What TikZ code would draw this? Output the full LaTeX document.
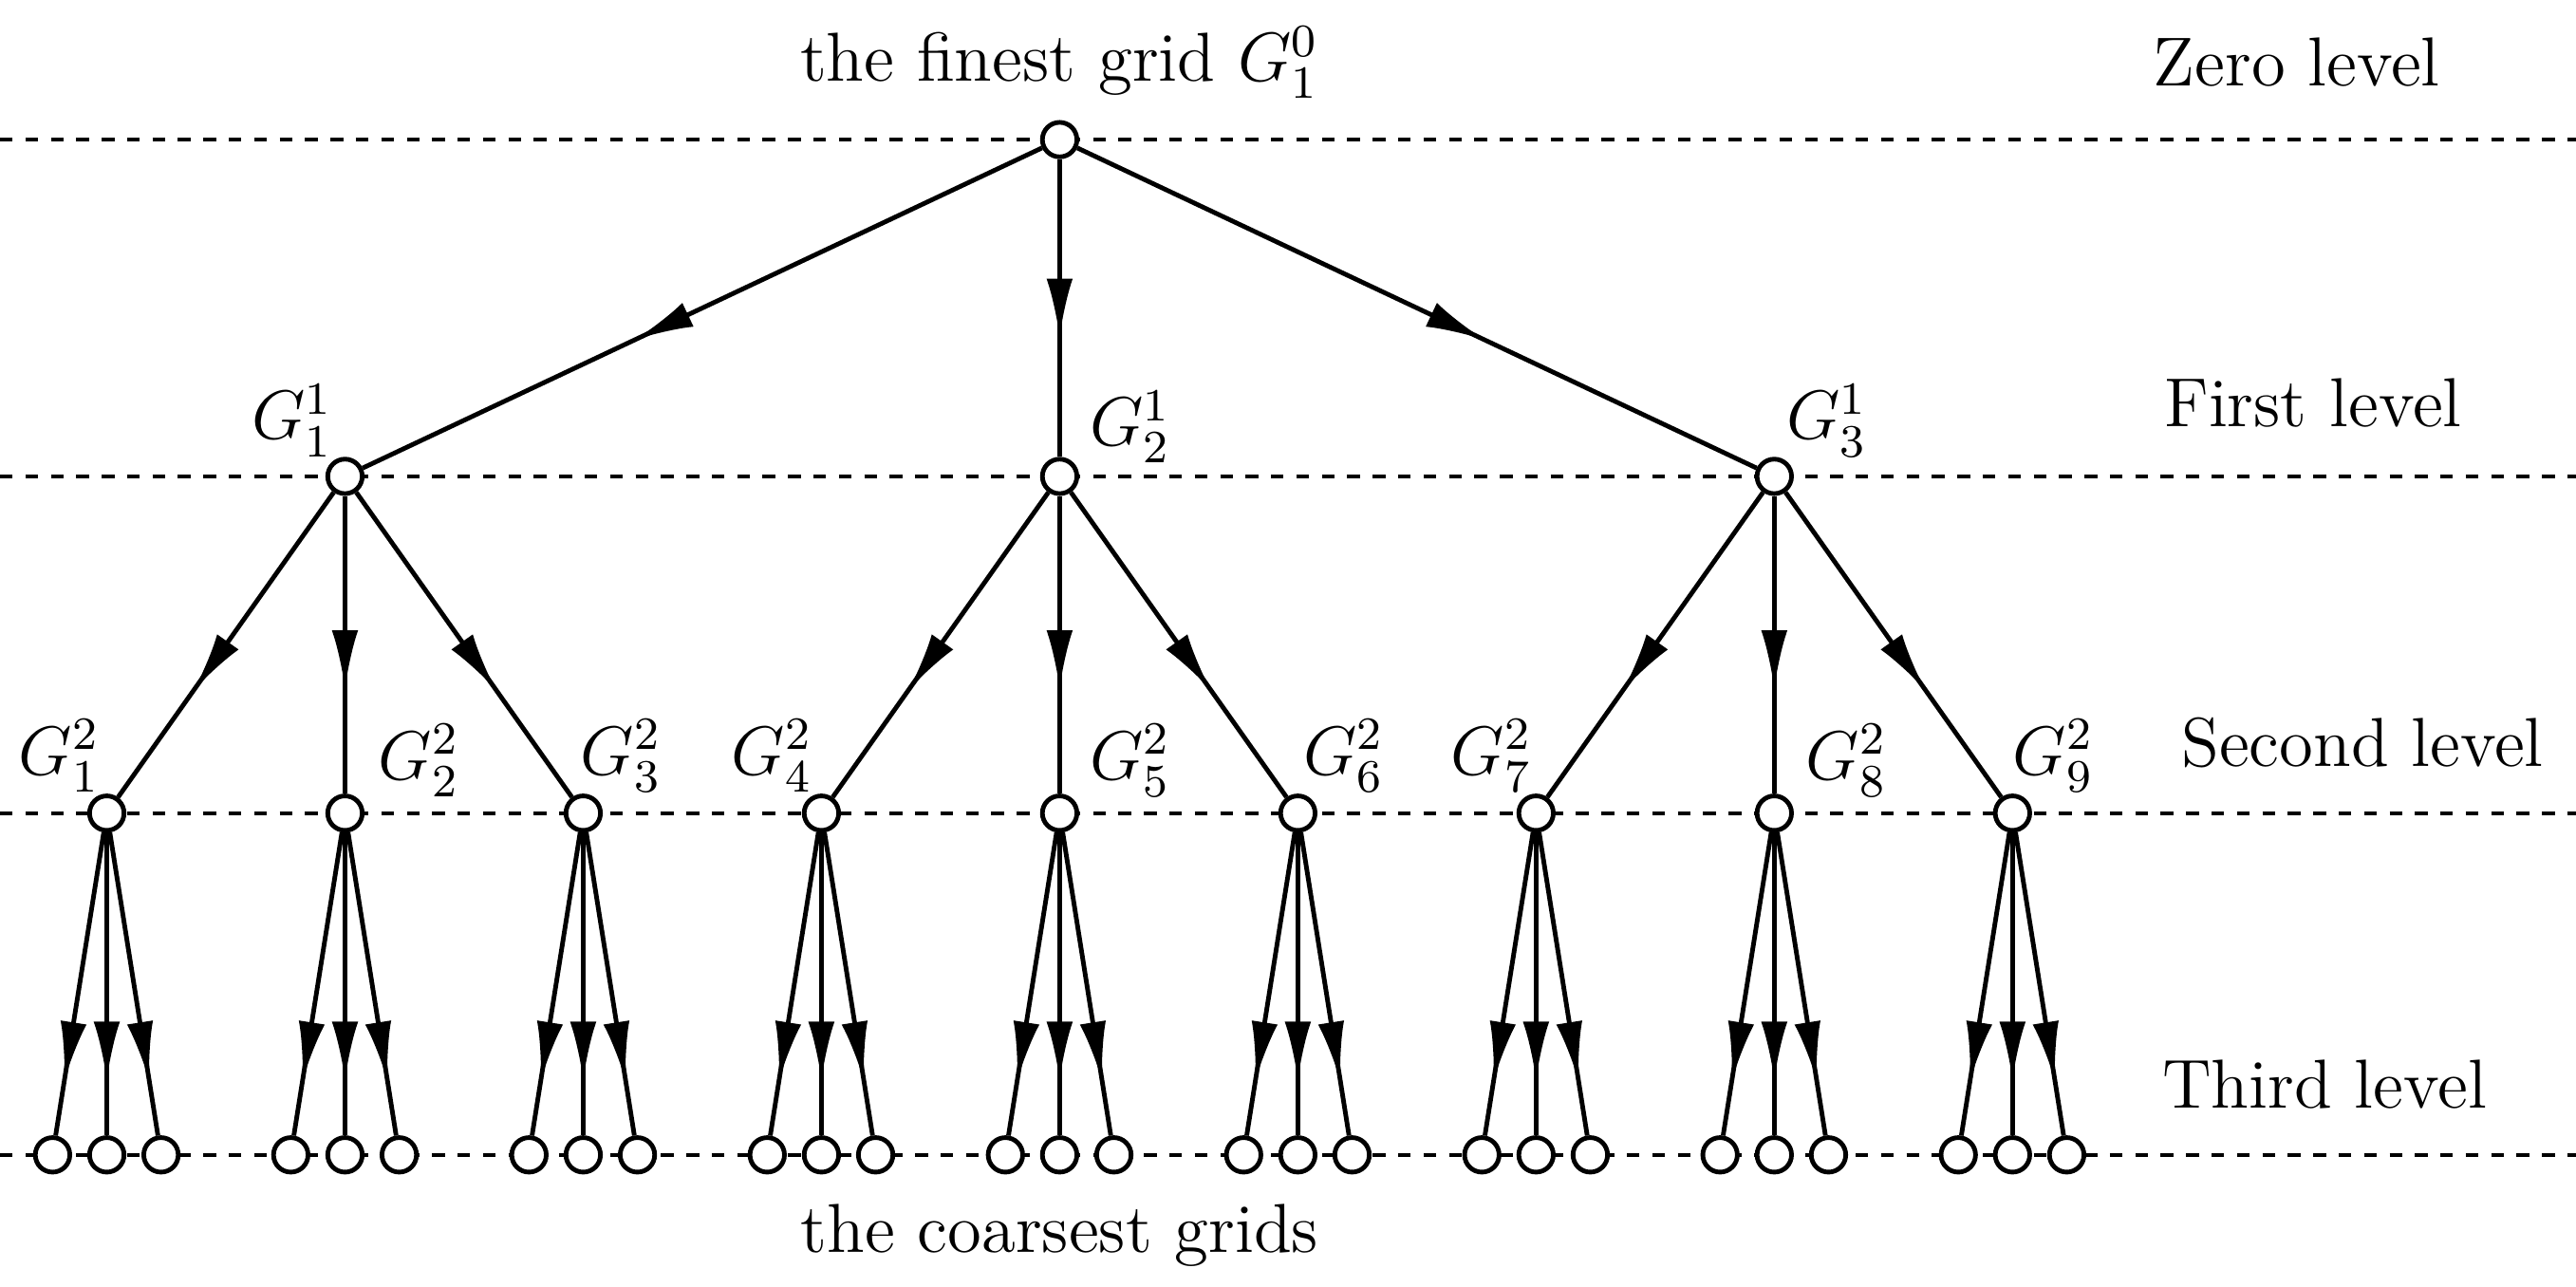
\documentclass[tikz,border=0pt]{standalone}
\usepackage{amsmath}
\usetikzlibrary{arrows.meta,decorations.markings}
\tikzset{
  grid/.style={circle, draw, fill=white, line width=0.8pt, minimum size=0.21cm, inner sep=0pt},
  edge/.style={line width=0.8pt, decoration={markings,
      mark=at position #1 with {\arrow{Latex[length=3.6mm,width=1.6mm]}}}, postaction={decorate}},
  edge/.default=0.6,
  level/.style={dash pattern=on 2.2pt off 2.2pt, line width=0.6pt},
  lbl/.style={font=\fontsize{12}{14}\selectfont}
}
\begin{document}
\begin{tikzpicture}[x=0.01cm, y=-0.01cm]
\useasboundingbox (0,0) rectangle (1568,783);
% dashed level lines
\foreach \y in {85,290,495,703}
  \draw[level] (0,\y) -- (1568,\y);
% level names
\node[lbl] (zero) at (1398,38) {Zero level};
\node[lbl] (first) at (1408,245) {First level};
\node[lbl] (second) at (1438,452) {Second level};
\node[lbl] (third) at (1415,660) {Third level};
% root
\node[grid] (r) at (645,85) {};
\node[lbl] (finest) at (645,38) {the finest grid $G_1^0$};
% first level
\foreach \i/\x in {1/210,2/645,3/1080} {
  \node[grid] (a\i) at (\x,290) {};
  \draw[edge] (r) -- (a\i);
}
\node[lbl] at (178,256) {$G_1^1$};
\node[lbl] at (688,260) {$G_2^1$};
\node[lbl] at (1112,256) {$G_3^1$};
% second level
\foreach \p/\x in {1/65,2/210,3/355,4/500,5/645,6/790,7/935,8/1080,9/1225} {
  \pgfmathtruncatemacro{\q}{int((\p-1)/3)+1}
  \node[grid] (b\p) at (\x,495) {};
  \draw[edge=0.65] (a\q) -- (b\p);
  \foreach \k/\dx in {1/-33,2/0,3/33} {
    \node[grid] (c\p\k) at (\x+\dx,703) {};
    \draw[edge=0.82] (b\p) -- (c\p\k);
  }
}
\foreach \p/\x/\y in {1/36/460,2/255/463,3/378/460,4/470/460,5/688/463,6/818/460,7/908/460,8/1124/463,9/1250/460}
  \node[lbl] at (\x,\y) {$G_{\p}^2$};
\node[lbl] (coarse) at (645,752) {the coarsest grids};
\end{tikzpicture}
\end{document}
